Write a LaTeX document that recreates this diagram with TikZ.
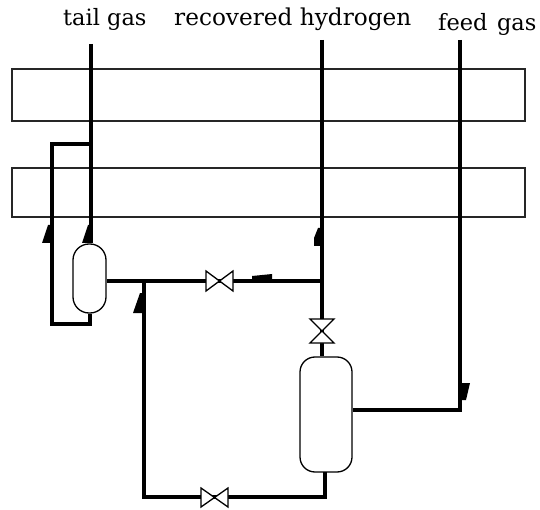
\documentclass[tikz,border=0pt]{standalone}
\usepackage{fontspec}
\setmainfont{DejaVu Serif}
\begin{document}
\begin{tikzpicture}[x=1pt,y=-1pt,
 pipe/.style={line width=4pt,line join=miter},
 thinbox/.style={draw,line width=1.5pt,black!85},
 lbl/.style={font=\fontsize{22.5}{26}\selectfont,inner sep=0pt,anchor=base west},
 valve/.style={draw,line width=1.3pt,fill=white},
 vessel/.style={draw,line width=1.3pt,fill=white,rounded corners=#1,inner sep=0pt}]
\useasboundingbox (0,0) rectangle (540,510);
\node[lbl] (t1) at (63,26) {tail gas};
\node[lbl,font=\fontsize{23.2}{26}\selectfont] (t2) at (174,26) {recovered hydrogen};
\node[lbl] (t3) at (438,31) {feed\hspace{0.42em}gas};
\draw[thinbox] (12,69) rectangle (525,121);
\draw[thinbox] (12,168) rectangle (525,217);
\node[vessel=16pt,minimum width=33pt,minimum height=69pt] (v1) at (89.5,278.5) {};
\node[vessel=15pt,minimum width=52pt,minimum height=115pt] (v2) at (326,414.5) {};
\coordinate (a) at (91,44);
\coordinate (c) at (322,40);
\coordinate (e) at (459.5,40);
\coordinate (j1) at (91,144);
\coordinate (j2) at (322,281);
\coordinate (j3) at (143.5,281);
\coordinate (f) at (459.5,409.5);
\draw[pipe] (a) -- (v1.north -| a);
\draw[pipe] (c) -- (v2.north -| c);
\draw[pipe] (e) -- (f) -- (f -| v2.east);
\draw[pipe] (j1) -- (52,144) -- (52,324) -- (89.5,324) -- (v1.south);
\draw[pipe] (j2) -- (j2 -| v1.east);
\draw[pipe] (j3) -- (143.5,497) -- (324.5,497) -- (324.5,472);
\draw[valve] (206,271) -- (233,291) -- (233,271) -- (206,291) -- cycle;
\draw[valve] (201,488) -- (228,507) -- (228,488) -- (201,507) -- cycle;
\draw[valve] (310,319) -- (334,343) -- (310,343) -- (334,319) -- cycle;
\fill (42,243) -- (48,225) -- (51,225) -- (51,243) -- cycle;
\fill (82,243) -- (88,225) -- (90,225) -- (90,243) -- cycle;
\fill (314,246) -- (314,238) -- (318,228) -- (321,228) -- (321,246) -- cycle;
\fill (133,313) -- (140,293) -- (143,293) -- (143,313) -- cycle;
\fill (460,383) -- (470,383) -- (466,400) -- (460,400) -- cycle;
\fill (252,280) -- (252,276) -- (272,274) -- (272,280) -- cycle;
\end{tikzpicture}
\end{document}
